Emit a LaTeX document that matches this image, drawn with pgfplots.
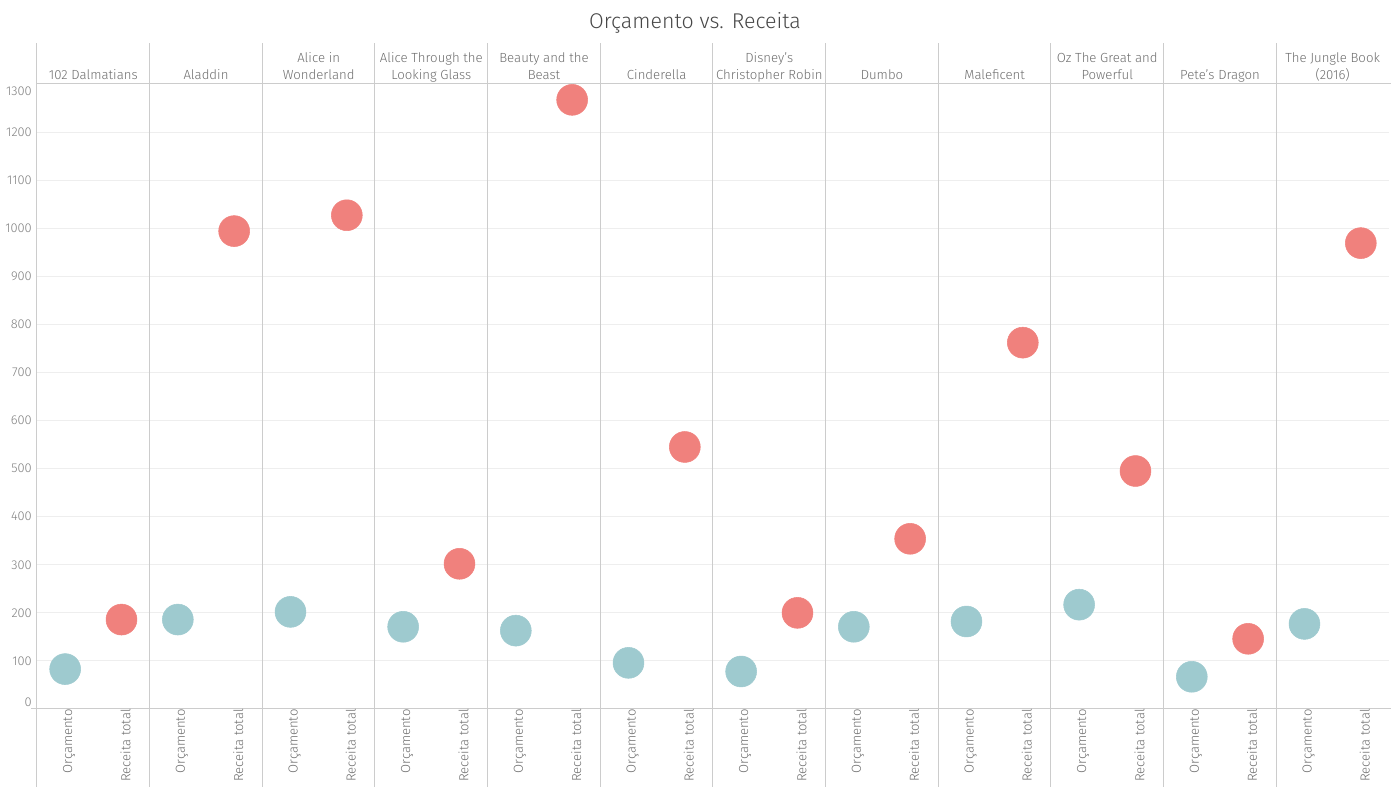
\documentclass[border=0pt]{standalone}
\usepackage{fontspec}
\setmainfont{Fira Sans}[UprightFont=* Light, BoldFont=* Regular]
\usepackage{pgfplots}
\pgfplotsset{compat=1.18}
\definecolor{orc}{RGB}{158,202,207}
\definecolor{rec}{RGB}{240,129,125}
\definecolor{sep}{RGB}{204,204,204}
\definecolor{grd}{RGB}{238,238,238}
\definecolor{txt}{RGB}{110,110,110}
\definecolor{tck}{RGB}{128,128,128}
\newcommand\hdr{\fontsize{9.9}{12.75}\selectfont}
\newcommand\btm{\fontsize{9.8}{11}\selectfont}
\newcommand\tkf{\fontsize{9.6}{10}\selectfont}
\pgfplotstableread{
x y
0.5 83
2.5 186
4.5 202
6.5 171
8.5 163
10.5 96
12.5 78
14.5 171
16.5 182
18.5 217
20.5 67
22.5 177
}\orcdata
\pgfplotstableread{
x y
1.5 186
3.5 994
5.5 1027
7.5 302
9.5 1267
11.5 545
13.5 200
15.5 354
17.5 762
19.5 495
21.5 146
23.5 969
}\recdata
\begin{document}
\begin{tikzpicture}[x=0.75pt,y=0.75pt]
\useasboundingbox (0,0) rectangle (1391,787);
\node[font=\fontsize{16}{18}\selectfont, text=black!72, anchor=base, inner sep=0] at (695,758) {Orçamento vs. Receita};
\begin{axis}[
  at={(27.75pt,58.5pt)}, anchor=south west,
  scale only axis, width=1014pt, height=468.75pt,
  xmin=0, xmax=24, ymin=0, ymax=1300,
  axis line style={draw=none},
  major tick length=0pt,
  xtick=\empty,
  ytick={100,200,...,1200},
  ymajorgrids, grid style={grd, line width=0.75pt},
  yticklabel style={font=\tkf, text=tck, anchor=east, inner sep=0pt, xshift=-3.75pt,
    /pgf/number format/1000 sep={}},
  /pgf/number format/assume math mode=true,
  clip=false,
]
% separators
\pgfplotsinvokeforeach{0,2,...,22}{
  \draw[sep, line width=0.75pt] (axis cs:#1,-162) -- (axis cs:#1,1385);
}
\draw[sep, line width=0.75pt] (axis cs:0,1300) -- (axis cs:24.05,1300);
\draw[sep, line width=0.75pt] (axis cs:-0.1,0) -- (axis cs:24.05,0);
% extra y labels
\node[font=\tkf, text=tck, anchor=east, inner sep=0pt, xshift=-3.75pt] at (axis cs:0,15) {0};
\node[font=\tkf, text=tck, anchor=east, inner sep=0pt, xshift=-3.75pt] at (axis cs:0,1285) {1300};
% headers
\pgfplotsforeachungrouped \xx/\nm in {1/{102 Dalmatians}, 3/{Aladdin}, 5/{Alice in\\Wonderland}, 7/{Alice Through the\\Looking Glass}, 9/{Beauty and the\\Beast}, 11/{Cinderella}, 13/{Disney’s\\Christopher Robin}, 15/{Dumbo}, 17/{Maleficent}, 19/{Oz The Great and\\Powerful}, 21/{Pete’s Dragon}, 23/{The Jungle Book\\(2016)}}{
  \edef\temp{\noexpand\node[anchor=south, align=center, inner sep=0pt, font=\noexpand\hdr, text=txt, yshift=-0.8pt] at (axis cs:\xx,1300) {\unexpanded\expandafter{\nm}\noexpand\strut};}
  \temp
}
% bottom labels
\pgfplotsinvokeforeach{0,2,...,22}{
  \node[rotate=90, anchor=east, inner sep=0pt, font=\btm, text=txt] at (axis cs:#1+0.5,0) [yshift=-3pt] {Orçamento};
  \node[rotate=90, anchor=east, inner sep=0pt, font=\btm, text=txt] at (axis cs:#1+1.5,0) [yshift=-3pt] {Receita total};
}
\addplot[only marks, mark=*, mark size=11.6pt, color=orc, mark options={draw=orc, fill=orc}] table[x=x,y=y] {\orcdata};
\addplot[only marks, mark=*, mark size=11.6pt, color=rec, mark options={draw=rec, fill=rec}] table[x=x,y=y] {\recdata};
\end{axis}
\end{tikzpicture}
\end{document}
